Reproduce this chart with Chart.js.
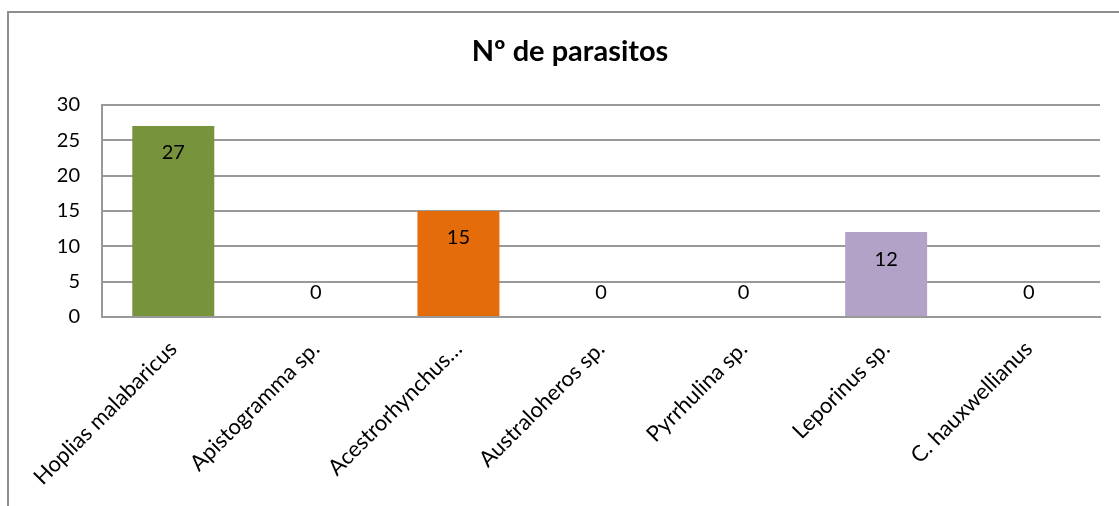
<!DOCTYPE html>
<html>
<head>
<meta charset="utf-8">
<script src="https://cdn.jsdelivr.net/npm/chart.js@4"></script>
<style>
  html, body { margin: 0; padding: 0; background: #fff; }
  #wrap { position: relative; width: 1119px; height: 506px; overflow: hidden; }
  #frame { position: absolute; left: 7px; top: 11px; width: 1130px; height: 520px; border: 2px solid #8e8e8e; box-sizing: border-box; }
  canvas { position: absolute; left: 0; top: 0; }
</style>
</head>
<body>
<div id="wrap">
  <div id="frame"></div>
  <canvas id="c" width="1119" height="506"></canvas>
</div>
<script>
const categories = ["Hoplias malabaricus", "Apistogramma sp.", "Acestrorhynchus…", "Australoheros sp.", "Pyrrhulina sp.", "Leporinus sp.", "C. hauxwellianus"];
const values = [27, 0, 15, 0, 0, 12, 0];
const barColors = ["#77933C", "#4F81BD", "#E46C0A", "#4BACC6", "#C0504D", "#B3A2C7", "#9BBB59"];
const yTicks = [0, 5, 10, 15, 20, 25, 30];
const titleText = "Nº de parasitos";

const FONT = "Lato, 'Open Sans', sans-serif";

const labelPlugin = {
  id: 'barLabels',
  afterDatasetsDraw(chart) {
    const ctx = chart.ctx;
    const meta = chart.getDatasetMeta(0);
    const ys = chart.scales.y;
    ctx.save();
    ctx.font = "20px " + FONT;
    ctx.fillStyle = "#000";
    ctx.textAlign = "center";
    ctx.textBaseline = "middle";
    meta.data.forEach((bar, i) => {
      const v = values[i];
      const y = v > 0 ? bar.y + 27 : ys.getPixelForValue(0) - 24;
      ctx.fillText(String(v), bar.x, y);
    });
    ctx.restore();
  }
};

new Chart(document.getElementById('c'), {
  type: 'bar',
  data: {
    labels: categories,
    datasets: [{
      data: values,
      backgroundColor: barColors,
      borderWidth: 0,
      categoryPercentage: 1,
      barPercentage: 0.575
    }]
  },
  options: {
    responsive: false,
    animation: false,
    devicePixelRatio: 1,
    layout: { padding: { top: 12, left: 40, right: 19, bottom: 0 } },
    plugins: {
      legend: { display: false },
      tooltip: { enabled: false },
      title: {
        display: true,
        text: titleText,
        color: "#000",
        font: { family: FONT, size: 29, weight: 'bold' },
        padding: { top: 22, bottom: 36 }
      }
    },
    scales: {
      x: {
        grid: { display: false, drawTicks: false },
        border: { display: true, color: "#999", width: 2 },
        ticks: {
          color: "#000",
          font: { family: FONT, size: 22 },
          minRotation: 45,
          maxRotation: 45,
          autoSkip: false,
          padding: 19
        },
        afterFit(scale) { scale.height = 189; }
      },
      y: {
        min: 0,
        max: 30,
        afterBuildTicks(scale) { scale.ticks = yTicks.map(v => ({ value: v })); },
        grid: { color: "#999", lineWidth: 2, drawTicks: false },
        border: { display: true, color: "#999", width: 2 },
        ticks: {
          color: "#000",
          font: { family: FONT, size: 20 },
          padding: 22
        },
        afterFit(scale) { scale.width = 62; }
      }
    }
  },
  plugins: [labelPlugin]
});
</script>
</body>
</html>
